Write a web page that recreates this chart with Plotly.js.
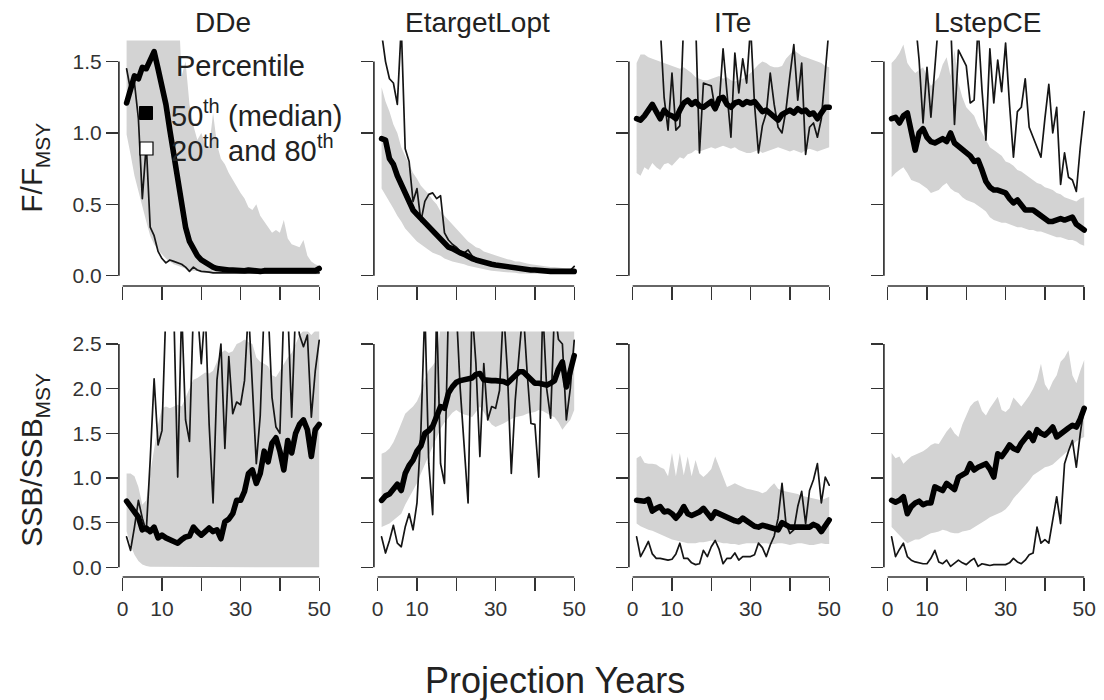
<!DOCTYPE html>
<html><head><meta charset="utf-8">
<script src="https://cdn.plot.ly/plotly-3.0.1.min.js"></script>
<style>body{margin:0;background:#fff}.js-line{stroke-linejoin:round!important;stroke-linecap:round!important}</style>
</head><body><div id="chart" style="width:1104px;height:700px"></div>
<script>
// ---------------- DATA ----------------
const years = [1,2,3,4,5,6,7,8,9,10,11,12,13,14,15,16,17,18,19,20,21,22,23,24,25,26,27,28,29,30,31,32,33,34,35,36,37,38,39,40,41,42,43,44,45,46,47,48,49,50];
const panelNames = ["DDe","EtargetLopt","ITe","LstepCE"];
const xTickVals = [0,10,30,50];        // labelled ticks
const xTickText = ["0","10","30","50"];
const xMinorTickVals = [20,40];        // unlabelled ticks
const fTickVals = [0,0.5,1,1.5];
const fTickText = ["0.0","0.5","1.0","1.5"];
const ssbTickVals = [0,0.5,1,1.5,2,2.5];
const ssbTickText = ["0.0","0.5","1.0","1.5","2.0","2.5"];

// F/FMSY
const ddeF_med = [1.21,1.30,1.40,1.38,1.46,1.45,1.50,1.57,1.45,1.33,1.20,1.02,0.85,0.65,0.46,0.34,0.24,0.18,0.14,0.11,0.09,0.07,0.06,0.05,0.045,0.04,0.04,0.04,0.035,0.035,0.035,0.04,0.035,0.035,0.03,0.035,0.035,0.04,0.035,0.035,0.04,0.035,0.035,0.04,0.04,0.035,0.035,0.04,0.035,0.05];
const ddeF_lo = [0.99,0.85,0.70,0.58,0.48,0.38,0.28,0.22,0.18,0.15,0.12,0.10,0.08,0.07,0.06,0.05,0.04,0.035,0.03,0.03,0.025,0.025,0.02,0.02,0.02,0.02,0.02,0.02,0.015,0.015,0.015,0.015,0.015,0.015,0.015,0.01,0.01,0.01,0.01,0.01,0.01,0.01,0.01,0.01,0.01,0.01,0.01,0.01,0.01,0.01];
const ddeF_hi = [2,2,2,2,2,2,2,2,2,2,2,2,2,2,1.40,1.50,1.20,1.05,0.95,1.00,0.92,0.90,1.14,0.92,0.82,0.78,0.72,0.67,0.62,0.58,0.54,0.48,0.46,0.50,0.42,0.38,0.34,0.30,0.32,0.30,0.39,0.26,0.22,0.21,0.20,0.25,0.14,0.10,0.08,0.07];
const ddeF_sim = [1.45,1.30,1.35,1.10,0.54,0.92,0.34,0.28,0.17,0.12,0.09,0.11,0.10,0.09,0.08,0.06,0.03,0.06,0.04,0.03,0.03,0.025,0.02,0.02,0.02,0.02,0.02,0.02,0.02,0.02,0.02,0.02,0.02,0.02,0.02,0.02,0.02,0.02,0.02,0.02,0.02,0.02,0.02,0.02,0.02,0.02,0.02,0.02,0.02,0.02];

const etlF_med = [0.96,0.95,0.82,0.78,0.70,0.64,0.56,0.51,0.46,0.43,0.40,0.37,0.34,0.31,0.28,0.25,0.23,0.20,0.19,0.17,0.16,0.15,0.13,0.12,0.11,0.10,0.09,0.085,0.08,0.075,0.07,0.065,0.06,0.055,0.05,0.05,0.045,0.045,0.04,0.04,0.035,0.035,0.035,0.03,0.03,0.03,0.03,0.03,0.03,0.03];
const etlF_lo = [0.61,0.57,0.52,0.47,0.42,0.38,0.33,0.30,0.27,0.24,0.22,0.20,0.18,0.16,0.15,0.14,0.12,0.11,0.10,0.09,0.085,0.08,0.07,0.065,0.06,0.05,0.045,0.04,0.035,0.03,0.03,0.025,0.025,0.02,0.02,0.015,0.015,0.015,0.015,0.015,0.012,0.012,0.012,0.012,0.012,0.01,0.01,0.01,0.01,0.01];
const etlF_hi = [1.32,1.22,1.15,1.06,1.00,0.90,0.84,0.78,0.72,0.68,0.63,0.60,0.57,0.53,0.50,0.45,0.42,0.39,0.36,0.33,0.30,0.27,0.24,0.22,0.20,0.19,0.17,0.16,0.15,0.14,0.13,0.12,0.115,0.11,0.10,0.10,0.09,0.085,0.08,0.075,0.07,0.07,0.065,0.06,0.06,0.055,0.055,0.05,0.05,0.05];
const etlF_sim = [1.70,1.50,1.38,1.35,1.20,1.75,0.89,0.80,0.52,0.61,0.38,0.52,0.57,0.58,0.54,0.56,0.30,0.25,0.22,0.20,0.17,0.16,0.18,0.14,0.12,0.10,0.09,0.085,0.08,0.07,0.065,0.06,0.055,0.05,0.05,0.045,0.04,0.04,0.04,0.035,0.035,0.035,0.03,0.03,0.03,0.03,0.03,0.03,0.035,0.065];

const iteF_med = [1.10,1.09,1.12,1.16,1.20,1.15,1.10,1.16,1.13,1.12,1.10,1.16,1.21,1.23,1.20,1.22,1.19,1.18,1.20,1.22,1.17,1.24,1.25,1.20,1.18,1.21,1.22,1.20,1.22,1.21,1.22,1.19,1.15,1.16,1.14,1.12,1.09,1.13,1.15,1.16,1.14,1.17,1.15,1.16,1.13,1.14,1.10,1.15,1.18,1.18];
const iteF_lo = [0.72,0.70,0.76,0.74,0.79,0.76,0.74,0.78,0.79,0.77,0.80,0.83,0.82,0.85,0.86,0.88,0.87,0.88,0.89,0.90,0.89,0.90,0.91,0.90,0.89,0.90,0.88,0.87,0.86,0.86,0.87,0.88,0.86,0.87,0.88,0.89,0.90,0.89,0.88,0.87,0.88,0.87,0.86,0.88,0.89,0.88,0.87,0.88,0.89,0.90];
const iteF_hi = [1.49,1.55,1.55,1.53,1.52,1.51,1.50,1.49,1.48,1.47,1.46,1.45,1.46,1.44,1.42,1.39,1.38,1.37,1.37,1.38,1.39,1.40,1.38,1.39,1.37,1.36,1.37,1.38,1.40,1.42,1.45,1.48,1.50,1.49,1.47,1.46,1.46,1.47,1.52,1.55,1.58,1.56,1.54,1.53,1.52,1.51,1.50,1.49,1.47,1.46];
const iteF_sim = [1.9,1.9,1.9,1.9,1.9,1.9,1.75,1.25,1.02,1.42,1.02,1.05,1.8,1.9,1.9,1.8,0.86,1.35,1.34,1.33,1.16,1.2,1.59,1.25,0.97,1.56,1.28,1.52,1.35,1.75,1.2,0.86,1.05,1.14,1.42,1.2,1.04,1.0,1.16,1.4,1.62,1.23,1.49,0.85,1.04,1.07,0.97,1.1,1.4,1.75];

const lsF_med = [1.10,1.11,1.07,1.12,1.14,1.03,0.88,1.00,1.03,0.97,0.94,0.93,0.95,0.96,0.94,1.00,0.93,0.91,0.89,0.87,0.84,0.80,0.81,0.74,0.66,0.62,0.60,0.60,0.59,0.58,0.54,0.51,0.53,0.50,0.46,0.46,0.46,0.44,0.42,0.39,0.38,0.38,0.39,0.40,0.39,0.40,0.41,0.36,0.34,0.32];
const lsF_lo = [0.69,0.72,0.74,0.76,0.72,0.67,0.66,0.65,0.63,0.61,0.58,0.59,0.60,0.63,0.65,0.61,0.59,0.58,0.55,0.53,0.52,0.51,0.49,0.47,0.45,0.41,0.39,0.38,0.37,0.37,0.36,0.35,0.34,0.34,0.33,0.32,0.32,0.31,0.31,0.30,0.29,0.28,0.27,0.27,0.26,0.25,0.25,0.24,0.22,0.21];
const lsF_hi = [1.49,1.52,1.56,1.62,1.49,1.45,1.42,1.44,1.46,1.40,1.33,1.36,1.39,1.48,1.53,1.40,1.58,1.35,1.25,1.18,1.15,1.12,1.05,1.00,0.95,0.90,0.88,0.86,0.84,0.80,0.79,0.77,0.74,0.73,0.71,0.69,0.67,0.65,0.64,0.62,0.61,0.60,0.58,0.57,0.55,0.54,0.53,0.52,0.54,0.55];
const lsF_sim = [1.9,1.9,1.9,1.9,1.9,1.9,1.8,1.51,1.07,1.46,1.11,1.5,1.8,1.9,1.9,1.8,1.06,1.58,1.53,1.47,1.21,1.23,1.75,1.3,0.95,1.59,1.21,1.51,1.29,1.63,1.2,0.83,1.15,1.18,1.38,1.04,0.97,0.9,0.83,1.1,1.34,1.0,1.18,0.64,0.86,0.69,0.67,0.59,0.9,1.15];

// SSB/SSBMSY
const ddeS_med = [0.74,0.68,0.62,0.56,0.42,0.44,0.40,0.45,0.33,0.36,0.33,0.31,0.30,0.27,0.31,0.34,0.35,0.45,0.40,0.36,0.40,0.44,0.40,0.42,0.32,0.51,0.54,0.60,0.75,0.75,0.85,1.05,1.09,0.94,1.05,1.30,1.18,1.39,1.45,1.30,1.09,1.42,1.28,1.50,1.60,1.65,1.54,1.24,1.54,1.60];
const ddeS_lo = [0.40,0.25,0.14,0.07,0.03,0.015,0.005,0,0,0,0,0,0,0,0,0,0,0,0,0,0,0,0,0,0,0,0,0,0,0,0,0,0,0,0,0,0,0,0,0,0,0,0,0,0,0,0,0,0,0];
const ddeS_hi = [1.05,1.05,1.02,0.90,0.70,0.75,1.05,1.35,1.60,1.78,1.80,1.78,1.80,1.82,1.80,1.90,2.00,2.10,2.12,2.15,2.18,2.17,2.20,2.30,2.40,2.43,2.40,2.42,2.50,2.52,2.55,2.52,2.50,2.35,2.30,2.28,2.25,2.15,2.13,2.20,2.28,2.35,2.40,2.50,2.60,2.65,2.65,2.60,2.65,2.65];
const ddeS_sim = [0.34,0.19,0.45,0.75,0.55,0.40,1.20,2.11,1.37,1.53,2.9,2.9,2.9,1.01,2.9,1.65,1.41,2.9,2.9,2.28,2.9,1.60,0.72,2.1,2.5,1.33,2.36,1.72,1.85,1.82,2.09,2.9,2.0,1.16,1.70,2.9,2.9,1.90,1.57,1.50,2.9,2.9,1.68,2.9,2.6,2.47,2.6,1.68,2.2,2.54];

const etlS_med = [0.75,0.80,0.82,0.87,0.93,0.86,1.05,1.14,1.20,1.30,1.36,1.50,1.53,1.58,1.68,1.80,1.78,1.95,2.02,2.07,2.09,2.10,2.11,2.12,2.16,2.17,2.10,2.09,2.09,2.09,2.09,2.08,2.06,2.11,2.16,2.19,2.19,2.14,2.10,2.06,2.06,2.05,2.04,2.06,2.09,2.22,2.30,2.02,2.17,2.37];
const etlS_lo = [0.45,0.47,0.49,0.52,0.56,0.60,0.70,0.79,0.86,0.94,1.05,1.15,1.27,1.36,1.45,1.55,1.62,1.68,1.73,1.76,1.73,1.71,1.70,1.68,1.74,1.80,1.74,1.66,1.60,1.57,1.59,1.61,1.63,1.66,1.68,1.69,1.70,1.72,1.73,1.74,1.76,1.75,1.73,1.70,1.68,1.62,1.54,1.60,1.65,1.76];
const etlS_hi = [1.27,1.29,1.33,1.40,1.50,1.62,1.72,1.76,1.80,1.86,1.96,2.10,2.21,2.26,2.32,2.7,2.8,2.8,2.8,2.8,2.8,2.8,2.8,2.8,2.8,2.8,2.8,2.8,2.8,2.8,2.8,2.8,2.8,2.8,2.8,2.8,2.8,2.8,2.8,2.8,2.8,2.8,2.8,2.8,2.8,2.8,2.8,2.8,2.8,2.8];
const etlS_sim = [0.34,0.16,0.30,0.47,0.27,0.23,0.45,0.60,0.42,0.72,1.53,2.9,1.16,0.59,2.9,1.16,0.94,2.9,2.9,2.9,2.0,1.4,0.72,2.9,2.28,1.24,2.28,1.65,1.80,1.78,1.98,2.9,2.2,1.05,1.87,2.4,2.9,2.2,1.61,1.60,1.01,2.9,2.0,1.67,2.9,2.55,2.5,1.65,2.0,2.54];

const iteS_med = [0.75,0.75,0.74,0.76,0.63,0.66,0.68,0.62,0.63,0.60,0.55,0.60,0.68,0.60,0.58,0.60,0.62,0.66,0.60,0.55,0.62,0.60,0.57,0.55,0.53,0.52,0.51,0.55,0.52,0.49,0.46,0.45,0.47,0.46,0.45,0.44,0.42,0.50,0.47,0.45,0.45,0.45,0.44,0.44,0.45,0.48,0.46,0.40,0.47,0.53];
const iteS_lo = [0.49,0.46,0.44,0.42,0.41,0.39,0.37,0.35,0.33,0.31,0.30,0.29,0.28,0.27,0.27,0.27,0.28,0.28,0.29,0.30,0.29,0.28,0.27,0.27,0.26,0.26,0.25,0.26,0.27,0.27,0.27,0.27,0.27,0.27,0.26,0.26,0.27,0.27,0.26,0.25,0.26,0.27,0.27,0.26,0.25,0.25,0.26,0.27,0.26,0.26];
const iteS_hi = [1.22,1.25,1.17,1.16,1.16,1.15,1.12,1.10,1.02,1.28,1.02,1.28,1.03,1.24,1.02,1.20,1.05,1.01,1.05,1.10,1.24,1.12,1.00,0.90,0.92,0.94,0.92,0.90,0.88,0.87,0.86,0.85,0.83,0.85,0.90,0.94,0.88,0.86,0.85,0.84,0.83,0.82,0.80,0.79,0.78,0.77,0.76,0.75,0.77,0.79];
const iteS_sim = [0.34,0.12,0.20,0.29,0.15,0.10,0.10,0.09,0.08,0.09,0.15,0.27,0.10,0.10,0.05,0.03,0.04,0.19,0.12,0.23,0.30,0.20,0.04,0.10,0.10,0.16,0.08,0.12,0.12,0.12,0.14,0.27,0.22,0.12,0.25,0.35,0.55,0.94,0.49,0.38,0.42,0.68,0.85,0.49,0.86,0.98,1.16,0.72,1.01,0.92];

const lsS_med = [0.75,0.73,0.75,0.79,0.60,0.68,0.72,0.74,0.70,0.72,0.72,0.90,0.88,0.86,0.94,0.90,0.87,1.01,1.04,1.06,1.16,1.09,1.12,1.14,1.16,1.10,1.01,1.27,1.24,1.30,1.37,1.33,1.31,1.39,1.44,1.50,1.42,1.54,1.50,1.48,1.52,1.57,1.46,1.50,1.54,1.56,1.59,1.57,1.66,1.78];
const lsS_lo = [0.45,0.40,0.36,0.31,0.27,0.29,0.31,0.31,0.33,0.36,0.38,0.39,0.40,0.42,0.41,0.39,0.38,0.38,0.40,0.41,0.42,0.44,0.47,0.50,0.53,0.56,0.58,0.60,0.62,0.65,0.70,0.77,0.82,0.87,0.92,0.97,1.03,1.06,1.09,1.12,1.13,1.15,1.18,1.22,1.27,1.31,1.37,1.41,1.44,1.46];
const lsS_hi = [1.28,1.22,1.24,1.16,1.20,1.24,1.26,1.28,1.30,1.33,1.37,1.39,1.38,1.45,1.52,1.57,1.50,1.46,1.60,1.70,1.80,1.85,1.87,1.75,1.70,1.78,1.85,1.91,1.76,1.74,1.78,1.90,1.85,1.80,1.86,1.92,2.00,2.10,2.28,2.05,1.98,2.08,2.15,2.30,2.35,2.43,2.15,2.06,2.20,2.32];
const lsS_sim = [0.34,0.12,0.20,0.27,0.12,0.08,0.06,0.05,0.04,0.04,0.10,0.19,0.06,0.04,0.08,0.01,0.05,0.08,0.05,0.03,0.07,0.10,0.01,0.04,0.03,0.02,0.03,0.03,0.03,0.03,0.05,0.10,0.06,0.04,0.08,0.14,0.16,0.45,0.27,0.31,0.27,0.55,0.79,0.49,1.16,1.30,1.42,1.12,1.50,1.80];

// ---------------- BUILD ----------------
const W = 1104, H = 700;
const colLeft = [118.9, 373.9, 628.9, 883.9], colW = 208;
const rowTop = [40.5, 331.5], rowH = 245.5;
const xRange = [-0.96, 51.96];
const yRanges = [[-0.0724, 1.648], [-0.1086, 2.640]];
const FAM = 'Liberation Sans';
const FONT = '"Liberation Sans", Arial, Helvetica, sans-serif';
const AX = '#333';
const TXT = '#222';

const panels = [
  [ddeF_med, ddeF_lo, ddeF_hi, ddeF_sim],
  [etlF_med, etlF_lo, etlF_hi, etlF_sim],
  [iteF_med, iteF_lo, iteF_hi, iteF_sim],
  [lsF_med, lsF_lo, lsF_hi, lsF_sim],
  [ddeS_med, ddeS_lo, ddeS_hi, ddeS_sim],
  [etlS_med, etlS_lo, etlS_hi, etlS_sim],
  [iteS_med, iteS_lo, iteS_hi, iteS_sim],
  [lsS_med, lsS_lo, lsS_hi, lsS_sim]
];

const fx = px => px / W;
const fy = py => 1 - py / H;
function yPx(row, v){ const r = yRanges[row]; return rowTop[row] + (r[1]-v)/(r[1]-r[0])*rowH; }
function xPx(col, v){ return colLeft[col] + (v - xRange[0])/(xRange[1]-xRange[0])*colW; }

const mctx = document.createElement('canvas').getContext('2d');
function tw(text, size){ mctx.font = size + 'px "' + FAM + '", Arial, sans-serif'; return mctx.measureText(text).width; }

const traces = [];
const layout = {
  width: W, height: H, margin: {l:0, r:0, t:0, b:0},
  paper_bgcolor: '#fff', plot_bgcolor: '#fff', showlegend: false,
  font: {family: FONT, color: TXT},
  shapes: [], annotations: []
};
function note(text, xp, yp, size, opts){
  layout.annotations.push(Object.assign({text: text, xref: 'paper', yref: 'paper',
    x: fx(xp), y: fy(yp), xanchor: 'center', yanchor: 'middle', showarrow: false,
    borderpad: 0, borderwidth: 0, font: {size: size, color: TXT, family: FONT}}, opts || {}));
}

panels.forEach((p, i) => {
  const row = Math.floor(i/4), col = i % 4;
  const sfx = i === 0 ? '' : String(i+1);
  const xa = 'x' + sfx, ya = 'y' + sfx;
  const [med, lo, hi, sim] = p;
  traces.push({x: years.concat(years.slice().reverse()), y: hi.concat(lo.slice().reverse()),
    xaxis: xa, yaxis: ya, mode: 'lines', fill: 'toself', fillcolor: '#d3d3d3',
    line: {width: 0, color: '#d3d3d3'}, hoverinfo: 'skip'});
  traces.push({x: years, y: sim, xaxis: xa, yaxis: ya, mode: 'lines',
    line: {color: '#151515', width: 1.7}, hoverinfo: 'skip'});
  traces.push({x: years, y: med, xaxis: xa, yaxis: ya, mode: 'lines',
    line: {color: '#000', width: 5.6}, hoverinfo: 'skip'});

  const xd = [fx(colLeft[col]), fx(colLeft[col] + colW)];
  const yd = [fy(rowTop[row] + rowH), fy(rowTop[row])];
  layout['xaxis' + sfx] = {
    domain: xd, range: xRange, anchor: ya, showgrid: false, zeroline: false, showline: false,
    ticks: 'outside', ticklen: 13, tickwidth: 1.4, tickcolor: AX,
    tickvals: xTickVals, ticktext: xTickText, showticklabels: row === 1,
    minor: {tickvals: xMinorTickVals, ticks: 'outside', ticklen: 13, tickwidth: 1.4, tickcolor: AX, showgrid: false},
    tickfont: {size: 21, color: '#333', family: FONT}, fixedrange: true
  };
  const tv = row === 0 ? fTickVals : ssbTickVals;
  const tt = row === 0 ? fTickText : ssbTickText;
  layout['yaxis' + sfx] = {
    domain: yd, range: yRanges[row], anchor: xa, showgrid: false, zeroline: false, showline: false,
    ticks: 'outside', ticklen: 12, tickwidth: 1.4, tickcolor: AX,
    tickvals: tv, ticktext: tt, showticklabels: col === 0,
    tickfont: {size: 21, color: '#333', family: FONT}, fixedrange: true
  };
  // R-style axis lines spanning first to last tick
  layout.shapes.push({type: 'line', xref: 'paper', yref: 'paper',
    x0: fx(colLeft[col]), x1: fx(colLeft[col]),
    y0: fy(yPx(row, tv[0])), y1: fy(yPx(row, tv[tv.length-1])),
    line: {color: AX, width: 1.7}});
  layout.shapes.push({type: 'line', xref: 'paper', yref: 'paper',
    x0: fx(xPx(col, 0)), x1: fx(xPx(col, 50)),
    y0: fy(rowTop[row] + rowH), y1: fy(rowTop[row] + rowH),
    line: {color: AX, width: 1.7}});
  if (row === 0) note(panelNames[col], colLeft[col] + colW/2, 22, 28);
});

// horizontal rich text: parts = [[text, isSup], ...]
function richH(parts, x0, yc, size){
  let x = x0;
  parts.forEach(([t, sup]) => {
    const fs = sup ? Math.round(size*0.68) : size;
    const txt = t.replace(/^ +/, '');
    x += (t.length - txt.length) * tw(' ', size);
    note(txt, x, sup ? yc - size*0.33 : yc, fs, {xanchor: 'left'});
    x += tw(txt, fs);
  });
}
// vertical (rotated -90) text with subscript: reads bottom to top
function richV(main, sub, xc, yc, size){
  const fs = Math.round(size*0.7);
  const w1 = tw(main, size), w2 = tw(sub, fs);
  const bottom = yc + (w1 + w2)/2;
  note(main, xc, bottom - w1/2, size, {textangle: -90});
  note(sub, xc + size*0.36, bottom - w1 - w2/2, fs, {textangle: -90});
}

// axis titles
richV('F/F', 'MSY', 32, 168, 30);
richV('SSB/SSB', 'MSY', 32, 460, 30);
note('Projection Years', 555, 680, 36);

// legend in DDe panel
note('Percentile', 176, 66, 29, {xanchor: 'left'});
richH([['50', false], ['th', true], [' (median)', false]], 171, 116, 29);
richH([['20', false], ['th', true], [' and 80', false], ['th', true]], 171, 151, 29);
layout.shapes.push({type: 'rect', xref: 'paper', yref: 'paper',
  x0: fx(139.5), x1: fx(152.5), y0: fy(119.5), y1: fy(106.5),
  fillcolor: '#000', line: {color: '#000', width: 1}});
layout.shapes.push({type: 'rect', xref: 'paper', yref: 'paper',
  x0: fx(140), x1: fx(153), y0: fy(155), y1: fy(142),
  fillcolor: '#fff', line: {color: '#000', width: 1.2}});

Plotly.newPlot('chart', traces, layout, {staticPlot: true, displayModeBar: false});
</script>
</body></html>
